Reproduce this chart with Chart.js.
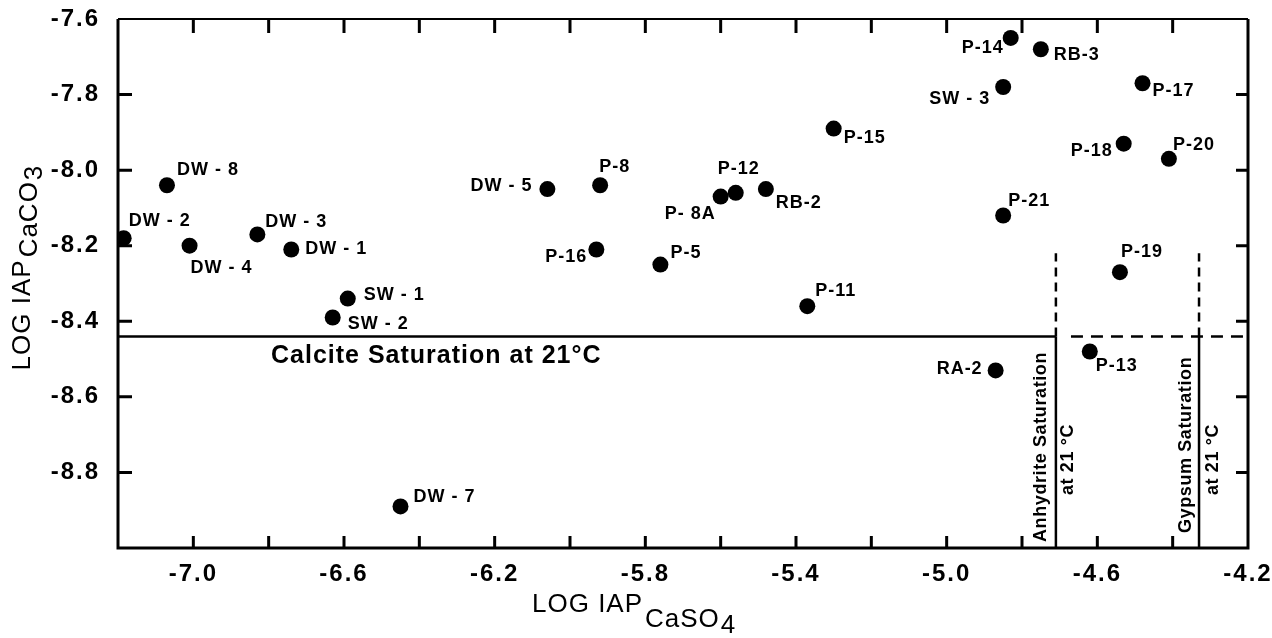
<!DOCTYPE html>
<html>
<head>
<meta charset="utf-8">
<title>LOG IAP CaCO3 vs LOG IAP CaSO4</title>
<script src="https://cdn.jsdelivr.net/npm/chart.js@4.4.1/dist/chart.umd.min.js"></script>
<style>
  html, body { margin: 0; padding: 0; background: #fff; }
  #wrap { width: 1272px; height: 638px; }
</style>
</head>
<body>
<div id="wrap"><canvas id="chart" width="1272" height="638"></canvas></div>
<script>
/* Ion activity products: sulfate (x) vs carbonate (y), one point per sample */
const sampleNames = [
  'DW - 8', 'DW - 2', 'DW - 4', 'DW - 3', 'DW - 1', 'SW - 1', 'SW - 2', 'DW - 7',
  'DW - 5', 'P-8', 'P-16', 'P-5', 'P- 8A', 'P-12', 'RB-2', 'P-15', 'P-11',
  'P-14', 'RB-3', 'SW - 3', 'P-17', 'P-18', 'P-20', 'P-21', 'P-19', 'RA-2', 'P-13'
];
const logIapCaSO4 = [
  -7.07, -7.185, -7.01, -6.83, -6.74, -6.59, -6.63, -6.45,
  -6.06, -5.92, -5.93, -5.76, -5.60, -5.56, -5.48, -5.30, -5.37,
  -4.83, -4.75, -4.85, -4.48, -4.53, -4.41, -4.85, -4.54, -4.87, -4.62
];
const logIapCaCO3 = [
  -8.04, -8.18, -8.20, -8.17, -8.21, -8.34, -8.39, -8.89,
  -8.05, -8.04, -8.21, -8.25, -8.07, -8.06, -8.05, -7.89, -8.36,
  -7.65, -7.68, -7.78, -7.77, -7.93, -7.97, -8.12, -8.27, -8.53, -8.48
];

/* tick labels actually printed on the axes */
const xTickLabels = ['-7.0', '-6.6', '-6.2', '-5.8', '-5.4', '-5.0', '-4.6', '-4.2'];
const yTickLabels = ['-7.6', '-7.8', '-8.0', '-8.2', '-8.4', '-8.6', '-8.8'];

/* saturation limits at 21 °C */
const calciteSatCaCO3   = -8.44;
const anhydriteSatCaSO4 = -4.71;
const gypsumSatCaSO4    = -4.33;
const satDashTopCaCO3   = -8.22;

const X_MIN = -7.2, X_MAX = -4.2;
const Y_MIN = -9.0, Y_MAX = -7.6;

/* where each sample label sits relative to its dot: [dx, dy, align] in px */
const labelPlacement = [
  [10, -15, 'left'], [5, -17, 'left'], [1, 22, 'left'], [8, -12, 'left'],
  [14, 0, 'left'], [16, -4, 'left'], [15, 7, 'left'], [13, -9, 'left'],
  [-15, -3, 'right'], [-1, -18, 'left'], [-9, 8, 'right'], [10, -12, 'left'],
  [-5, 17, 'right'], [-18, -24, 'left'], [10, 14, 'left'], [10, 9, 'left'],
  [8, -15, 'left'], [-7, 10, 'right'], [13, 6, 'left'], [-13, 12, 'right'],
  [10, 8, 'left'], [-11, 7, 'right'], [4, -14, 'left'], [5, -14, 'left'],
  [1, -20, 'left'], [-13, -1, 'right'], [6, 15, 'left']
];

const FONT = '"Liberation Sans", Arial, sans-serif';
const INK = '#000';

function txt(ctx, s, x, y, font, align, spacing) {
  ctx.font = font;
  ctx.textAlign = align || 'left';
  ctx.textBaseline = 'middle';
  ctx.letterSpacing = spacing || '0px';
  ctx.fillText(s, x, y);
}

/* ── labels, annotations, frame and inward ticks ───────────── */
const figureDecor = {
  id: 'figureDecor',
  beforeDraw(chart) {
    chart.ctx.letterSpacing = '2px';   // wide-set tick numerals
  },
  afterDatasetsDraw(chart) {
    const ctx = chart.ctx;
    const xs = chart.scales.x, ys = chart.scales.y;
    const area = chart.chartArea;
    ctx.save();
    ctx.fillStyle = INK;

    // sample labels
    const pts = chart.getDatasetMeta(0).data;
    pts.forEach((p, i) => {
      const [dx, dy, al] = labelPlacement[i];
      txt(ctx, sampleNames[i], p.x + dx, p.y + dy, 'bold 18px ' + FONT, al, '1px');
    });

    // calcite annotation
    const yCal = ys.getPixelForValue(calciteSatCaCO3);
    txt(ctx, 'Calcite Saturation at 21°C', area.left + 153, yCal + 20, 'bold 25px ' + FONT, 'left', '1px');

    // vertical annotations
    const vert = (s, x, y) => {
      ctx.save();
      ctx.translate(x, y);
      ctx.rotate(-Math.PI / 2);
      txt(ctx, s, 0, 0, 'bold 18px ' + FONT, 'left', '0.6px');
      ctx.restore();
    };
    const xAn = xs.getPixelForValue(anhydriteSatCaSO4);
    const xGy = xs.getPixelForValue(gypsumSatCaSO4);
    vert('Anhydrite Saturation', xAn - 15, area.bottom - 6);
    vert('at 21 °C', xAn + 12, area.bottom - 53);
    vert('Gypsum Saturation', xGy - 13, area.bottom - 15);
    vert('at 21 °C', xGy + 14, area.bottom - 53);

    // axis titles with subscripts
    const tf = '26px ' + FONT;
    ctx.font = tf; ctx.letterSpacing = '1px';
    let x0 = area.left + 414, yT = area.bottom + 57;
    txt(ctx, 'LOG IAP', x0, yT, tf, 'left', '1px');
    let w = ctx.measureText('LOG IAP').width;
    txt(ctx, 'CaSO', x0 + w + 2, yT + 15, tf, 'left', '1px');
    let w2 = ctx.measureText('CaSO').width;
    txt(ctx, '4', x0 + w + w2 + 3, yT + 21, tf, 'left', '0px');

    ctx.save();
    ctx.translate(area.left - 95, ys.getPixelForValue(-8.53));
    ctx.rotate(-Math.PI / 2);
    txt(ctx, 'LOG IAP', 0, 0, tf, 'left', '1px');
    w = ctx.measureText('LOG IAP').width;
    txt(ctx, 'CaCO', w + 2, 7, tf, 'left', '1px');
    w2 = ctx.measureText('CaCO').width;
    txt(ctx, '3', w + w2 + 3, 12, tf, 'left', '0px');
    ctx.restore();

    ctx.restore();
  },
  afterDraw(chart) {
    const ctx = chart.ctx;
    const xs = chart.scales.x, ys = chart.scales.y;
    const { left, right, top, bottom } = chart.chartArea;
    ctx.save();
    ctx.letterSpacing = '0px';
    ctx.strokeStyle = INK;
    ctx.lineCap = 'butt';

    // inward ticks on all four sides
    ctx.lineWidth = 3;
    ctx.beginPath();
    xs.ticks.forEach(t => {
      if (t.value <= X_MIN + 1e-6 || t.value >= X_MAX - 1e-6) return;
      const px = xs.getPixelForValue(t.value);
      ctx.moveTo(px, bottom); ctx.lineTo(px, bottom - 12);
      ctx.moveTo(px, top); ctx.lineTo(px, top + 14);
    });
    ys.ticks.forEach(t => {
      if (t.value <= Y_MIN + 1e-6 || t.value >= Y_MAX - 1e-6) return;
      const py = ys.getPixelForValue(t.value);
      ctx.moveTo(left, py); ctx.lineTo(left + 14, py);
      ctx.moveTo(right, py); ctx.lineTo(right - 12, py);
    });
    ctx.stroke();

    // frame
    ctx.lineWidth = 3;
    ctx.beginPath();
    ctx.moveTo(left, top); ctx.lineTo(left, bottom); ctx.lineTo(right, bottom); ctx.lineTo(right, top);
    ctx.stroke();
    ctx.lineWidth = 2;
    ctx.beginPath();
    ctx.moveTo(left, top); ctx.lineTo(right, top);
    ctx.stroke();
    ctx.restore();
  }
};

const lineDs = (pts, dash) => ({
  data: pts,
  showLine: true,
  pointRadius: 0,
  borderColor: INK,
  borderWidth: 2.5,
  borderDash: dash || [],
  fill: false
});

const tickFont = { family: FONT, size: 24, weight: 'bold' };

new Chart(document.getElementById('chart'), {
  type: 'scatter',
  data: {
    datasets: [
      {
        label: 'Samples',
        data: sampleNames.map((n, i) => ({ x: logIapCaSO4[i], y: logIapCaCO3[i] })),
        pointRadius: 8,
        pointHoverRadius: 8,
        pointBackgroundColor: INK,
        pointBorderWidth: 0
      },
      // calcite saturation: solid up to anhydrite line, dashed beyond
      lineDs([{ x: X_MIN, y: calciteSatCaCO3 }, { x: anhydriteSatCaSO4, y: calciteSatCaCO3 }]),
      lineDs([{ x: anhydriteSatCaSO4 + 0.04, y: calciteSatCaCO3 }, { x: X_MAX, y: calciteSatCaCO3 }], [12, 8]),
      // anhydrite saturation
      lineDs([{ x: anhydriteSatCaSO4, y: Y_MIN }, { x: anhydriteSatCaSO4, y: calciteSatCaCO3 }]),
      lineDs([{ x: anhydriteSatCaSO4, y: calciteSatCaCO3 }, { x: anhydriteSatCaSO4, y: satDashTopCaCO3 }], [9, 6]),
      // gypsum saturation
      lineDs([{ x: gypsumSatCaSO4, y: Y_MIN }, { x: gypsumSatCaSO4, y: calciteSatCaCO3 }]),
      lineDs([{ x: gypsumSatCaSO4, y: calciteSatCaCO3 }, { x: gypsumSatCaSO4, y: satDashTopCaCO3 }], [9, 6])
    ]
  },
  options: {
    responsive: false,
    animation: false,
    events: [],
    layout: { padding: { top: 19, right: 24, left: 0, bottom: 0 } },
    plugins: { legend: { display: false }, tooltip: { enabled: false } },
    scales: {
      x: {
        type: 'linear', min: X_MIN, max: X_MAX,
        grid: { display: false }, border: { display: false },
        ticks: {
          stepSize: 0.2, autoSkip: false, maxRotation: 0, padding: 4,
          color: INK, font: tickFont,
          callback: v => { const s = Number(v).toFixed(1); return xTickLabels.includes(s) ? s : ''; }
        },
        afterFit: s => { s.height = 90; s.paddingLeft = 0; s.paddingRight = 0; }
      },
      y: {
        type: 'linear', min: Y_MIN, max: Y_MAX,
        grid: { display: false }, border: { display: false },
        ticks: {
          stepSize: 0.2, autoSkip: false, padding: 10,
          color: INK, font: tickFont,
          callback: v => { const s = Number(v).toFixed(1); return yTickLabels.includes(s) ? s : ''; }
        },
        afterFit: s => { s.width = 118; s.paddingTop = 0; s.paddingBottom = 0; }
      }
    }
  },
  plugins: [figureDecor]
});
</script>
</body>
</html>
